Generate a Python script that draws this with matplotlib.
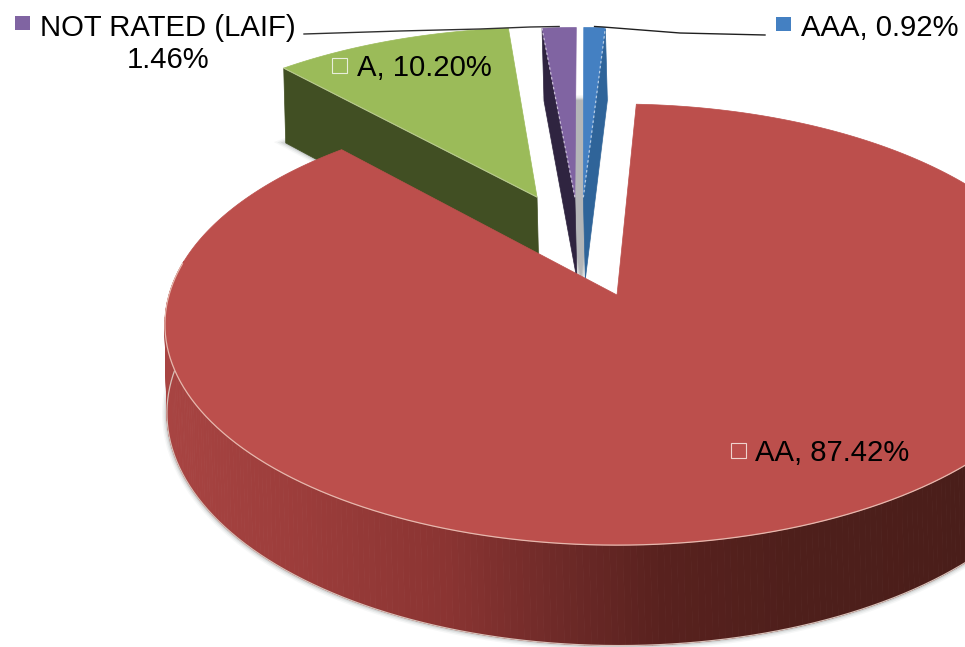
import numpy as np
import matplotlib
matplotlib.use('Agg')
import matplotlib.pyplot as plt
from matplotlib.patches import Polygon, Rectangle
from matplotlib.collections import PolyCollection
from matplotlib.colors import to_rgb

# slices go clockwise from the top, same order as the original
names = ['AAA', 'AA', 'A', 'NOT RATED (LAIF)']
shares = [0.92, 87.42, 10.20, 1.46]
top_colors = ['#4480C2', '#BC4F4C', '#9BBB59', '#8064A2']
wall_colors = ['#2F6499', '#7A302D', '#414F23', '#2F2440']
# how far each slice was pulled out, in disc units
pull_x = [-0.08, 0.0, -0.19, -0.10]
pull_y = [0.48, 0.0, 0.481, 0.48]
visible_wall = ['end', None, 'start', 'start']
start_angle = -0.51

# projection of the unit disc onto the page (pixels)
cx, cy = 617, 295
rx, ry = 448, 216.6
persp = 0.134
depth = 87
foot_shift = 2

# colours of the big slice's outer wall, left to right
wall_x = [165, 300, 450, 560, 665, 800, 965]
wall_rgb = [to_rgb(c) for c in ['#A84442', '#9C3D3B', '#8A3432', '#6E2A28', '#58211E', '#4E1F1B', '#4A1E1A']]


def project(x, y, z=0.0):
    den = 1 + persp * np.asarray(y)
    px = cx + rx * np.asarray(x) / den + (foot_shift if z else 0)
    py = cy - (ry * np.asarray(y) - z) / den
    return np.column_stack([px, py])


def arc(a0, a1, ox, oy, z=0.0, n=60):
    t = np.radians(np.linspace(a0, a1, n))
    return project(ox + np.sin(t), oy + np.cos(t), z)


def face(a0, a1, ox, oy, z=0.0, n=60):
    return np.vstack([project([ox], [oy], z), arc(a0, a1, ox, oy, z, n)])


def soft_shadow(ax, pts, closed=True):
    for lw, al in [(7, 0.06), (5, 0.10), (3, 0.14), (1.5, 0.2)]:
        ax.add_patch(Polygon(pts, closed=closed, fc='none', ec='#707878', lw=lw, alpha=al, zorder=1))


fig = plt.figure(figsize=(9.65, 6.47), dpi=100)
ax = fig.add_axes([0, 0, 1, 1])
ax.set_xlim(0, 965)
ax.set_ylim(647, 0)
ax.axis('off')
plt.rcParams['font.family'] = ['Liberation Sans', 'DejaVu Sans']

ends = start_angle + np.cumsum(shares) * 3.6
starts = np.concatenate([[start_angle], ends[:-1]])

# shadows on the floor: the two thin slices share one, with grey between them
thin_x = pull_x[0] * 0.5 + pull_x[3] * 0.5
soft_shadow(ax, face(starts[3], ends[0] + 360, thin_x, pull_y[0], depth))
ax.add_patch(Polygon(face(starts[3], ends[0] + 360, thin_x, pull_y[0], depth),
                     closed=True, fc='#B4B6B8', ec='none', zorder=1))
soft_shadow(ax, face(starts[2], ends[2], pull_x[2], pull_y[2], depth))

# far slices first, big slice goes on top of them
for i in [2, 3, 0]:
    ox, oy = pull_x[i], pull_y[i]
    a = starts[i] if visible_wall[i] == 'start' else ends[i]
    t0 = project([ox], [oy])
    t1 = arc(a, a, ox, oy, n=1)
    wall = np.vstack([t0, t1, arc(a, a, ox, oy, depth, n=1), project([ox], [oy], depth)])
    ax.add_patch(Polygon(wall, closed=True, fc=wall_colors[i], ec=wall_colors[i], lw=0.5, zorder=2))
    ax.add_patch(Polygon(face(starts[i], ends[i], ox, oy), closed=True, fc=top_colors[i], ec=top_colors[i], lw=0.5, zorder=3))
    edge = np.vstack([t0, t1])
    if i != 2:
        ax.plot(edge[:, 0], edge[:, 1], color='white', lw=0.9, ls=(0, (2, 2)), alpha=0.6, zorder=4)
    else:
        ax.plot(edge[:, 0], edge[:, 1], color='#C8D4A8', lw=0.8, alpha=0.7, zorder=4)

# outer wall of the big slice, as narrow strips coloured along x
angles = np.linspace(starts[1], ends[1], 420)
top_rim = arc(starts[1], ends[1], pull_x[1], pull_y[1], n=420)
foot_rim = arc(starts[1], ends[1], pull_x[1], pull_y[1], depth, n=420)
front = np.cos(np.radians(angles)) < 0.15
soft_shadow(ax, foot_rim[front], closed=False)
strips = []
strip_colors = []
for j in range(len(angles) - 1):
    if not front[j]:
        continue
    strips.append([top_rim[j], top_rim[j + 1], foot_rim[j + 1], foot_rim[j]])
    mx = top_rim[j, 0]
    strip_colors.append([np.interp(mx, wall_x, [c[k] for c in wall_rgb]) for k in range(3)])
ax.add_collection(PolyCollection(strips, facecolors=strip_colors, edgecolors=strip_colors, linewidths=0.6, zorder=5))
ax.plot(foot_rim[front, 0], foot_rim[front, 1], color='#D8C0B8', lw=0.9, zorder=6)

ax.add_patch(Polygon(face(starts[1], ends[1], pull_x[1], pull_y[1], n=420), closed=True,
                     fc=top_colors[1], ec=top_colors[1], lw=0.5, zorder=7))
ax.plot(top_rim[front, 0], top_rim[front, 1], color='#E6B8AE', lw=0.9, zorder=8)

# leader lines run from the labels to the thin slices
nr_tip = arc((starts[3] + ends[3]) / 2, (starts[3] + ends[3]) / 2, pull_x[3], pull_y[3], n=1)[0]
aaa_tip = arc((starts[0] + ends[0]) / 2, (starts[0] + ends[0]) / 2, pull_x[0], pull_y[0], n=1)[0]
ax.plot([304, 400, 480, 530, nr_tip[0]], [34, 31, 29, 27, 26.5], color='#303030', lw=1.0, zorder=9)
ax.plot([aaa_tip[0], 603, 680, 765], [26.5, 27, 33, 35], color='#202020', lw=1.0, zorder=9)

# labels
text_kw = dict(fontsize=21.1, color='black', va='baseline', zorder=10)
ax.text(40, 36, names[3], ha='left', **text_kw)
ax.text(168, 68, '%.2f%%' % shares[3], ha='center', **text_kw)
ax.text(801, 36, '%s, %.2f%%' % (names[0], shares[0]), ha='left', **text_kw)
ax.text(357, 76, '%s, %.2f%%' % (names[2], shares[2]), ha='left', **text_kw)
ax.text(755, 461, '%s, %.2f%%' % (names[1], shares[1]), ha='left', **text_kw)

ax.add_patch(Rectangle((15, 16), 15, 14, fc=top_colors[3], ec='none', zorder=10))
ax.add_patch(Rectangle((776, 17), 15, 14, fc=top_colors[0], ec='none', zorder=10))
ax.add_patch(Rectangle((331.5, 57.5), 15, 15, fc='none', ec='#E8EEDC', lw=0.8, zorder=10))
ax.add_patch(Rectangle((730.5, 442.5), 15, 15, fc='none', ec='#F0D4CE', lw=0.8, zorder=10))

fig.savefig('out.png', dpi=100)
